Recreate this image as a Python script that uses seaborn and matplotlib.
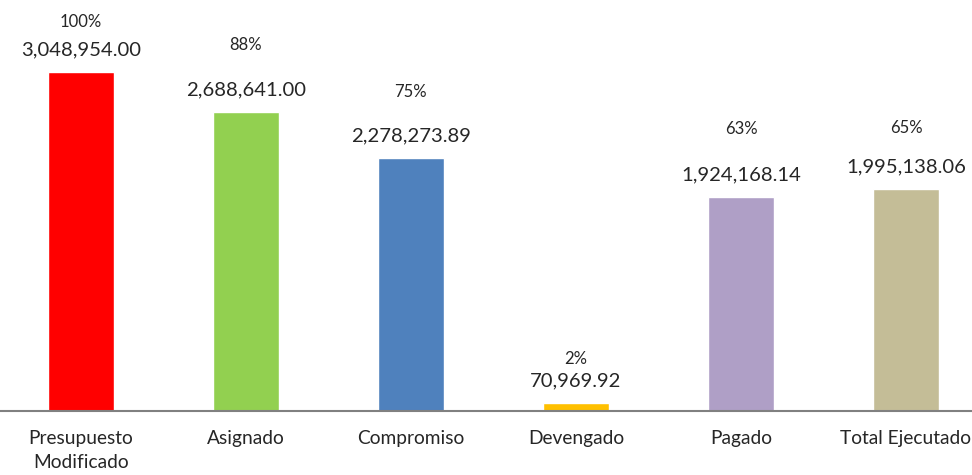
import seaborn as sns
import pandas as pd
import matplotlib.pyplot as plt

categorias = ['Presupuesto\nModificado', 'Asignado', 'Compromiso', 'Devengado', 'Pagado', 'Total Ejecutado']
montos = [3048954.00, 2688641.00, 2278273.89, 70969.92, 1924168.14, 1995138.06]
porcentajes = ['100%', '88%', '75%', '2%', '63%', '65%']
colores = ['#FF0000', '#92D050', '#4F81BD', '#FFC000', '#AF9FC6', '#C4BD97']

# distance (points) of the percent label above the bar top
pct_offset = [36, 48, 47, 32, 49, 44]

df = pd.DataFrame({'cat': categorias, 'monto': montos})

sns.set_theme(style='white')
plt.rcParams['font.family'] = ['Lato', 'DejaVu Sans']

fig = plt.figure(figsize=(9.72, 4.75), dpi=100)
ax = fig.add_axes([0, 64 / 475, 1, 401 / 475])

sns.barplot(data=df, x='cat', y='monto', hue='cat', palette=colores,
            width=0.4, legend=False, saturation=1, ax=ax)

ax.set_xlim(-0.49, 5.4)
ax.set_ylim(0, 3606000)
ax.set_xlabel('')
ax.set_ylabel('')
ax.set_yticks([])
for s in ['top', 'right', 'left']:
    ax.spines[s].set_visible(False)
ax.spines['bottom'].set_color('#808080')
ax.spines['bottom'].set_linewidth(1.5)
ax.spines['bottom'].set_bounds(-0.49, 5.4)
ax.tick_params(axis='x', length=0, pad=14, labelsize=13.8)
for t in ax.get_xticklabels():
    t.set_linespacing(1.45)
    t.set_verticalalignment('top')

for i, (m, p) in enumerate(zip(montos, porcentajes)):
    ax.annotate(f'{m:,.2f}', (i, m), xytext=(0, 16), textcoords='offset points',
                ha='center', va='center', fontsize=14.6)
    ax.annotate(p, (i, m), xytext=(0, pct_offset[i]), textcoords='offset points',
                ha='center', va='center', fontsize=12)

fig.savefig('out.png', dpi=100)
